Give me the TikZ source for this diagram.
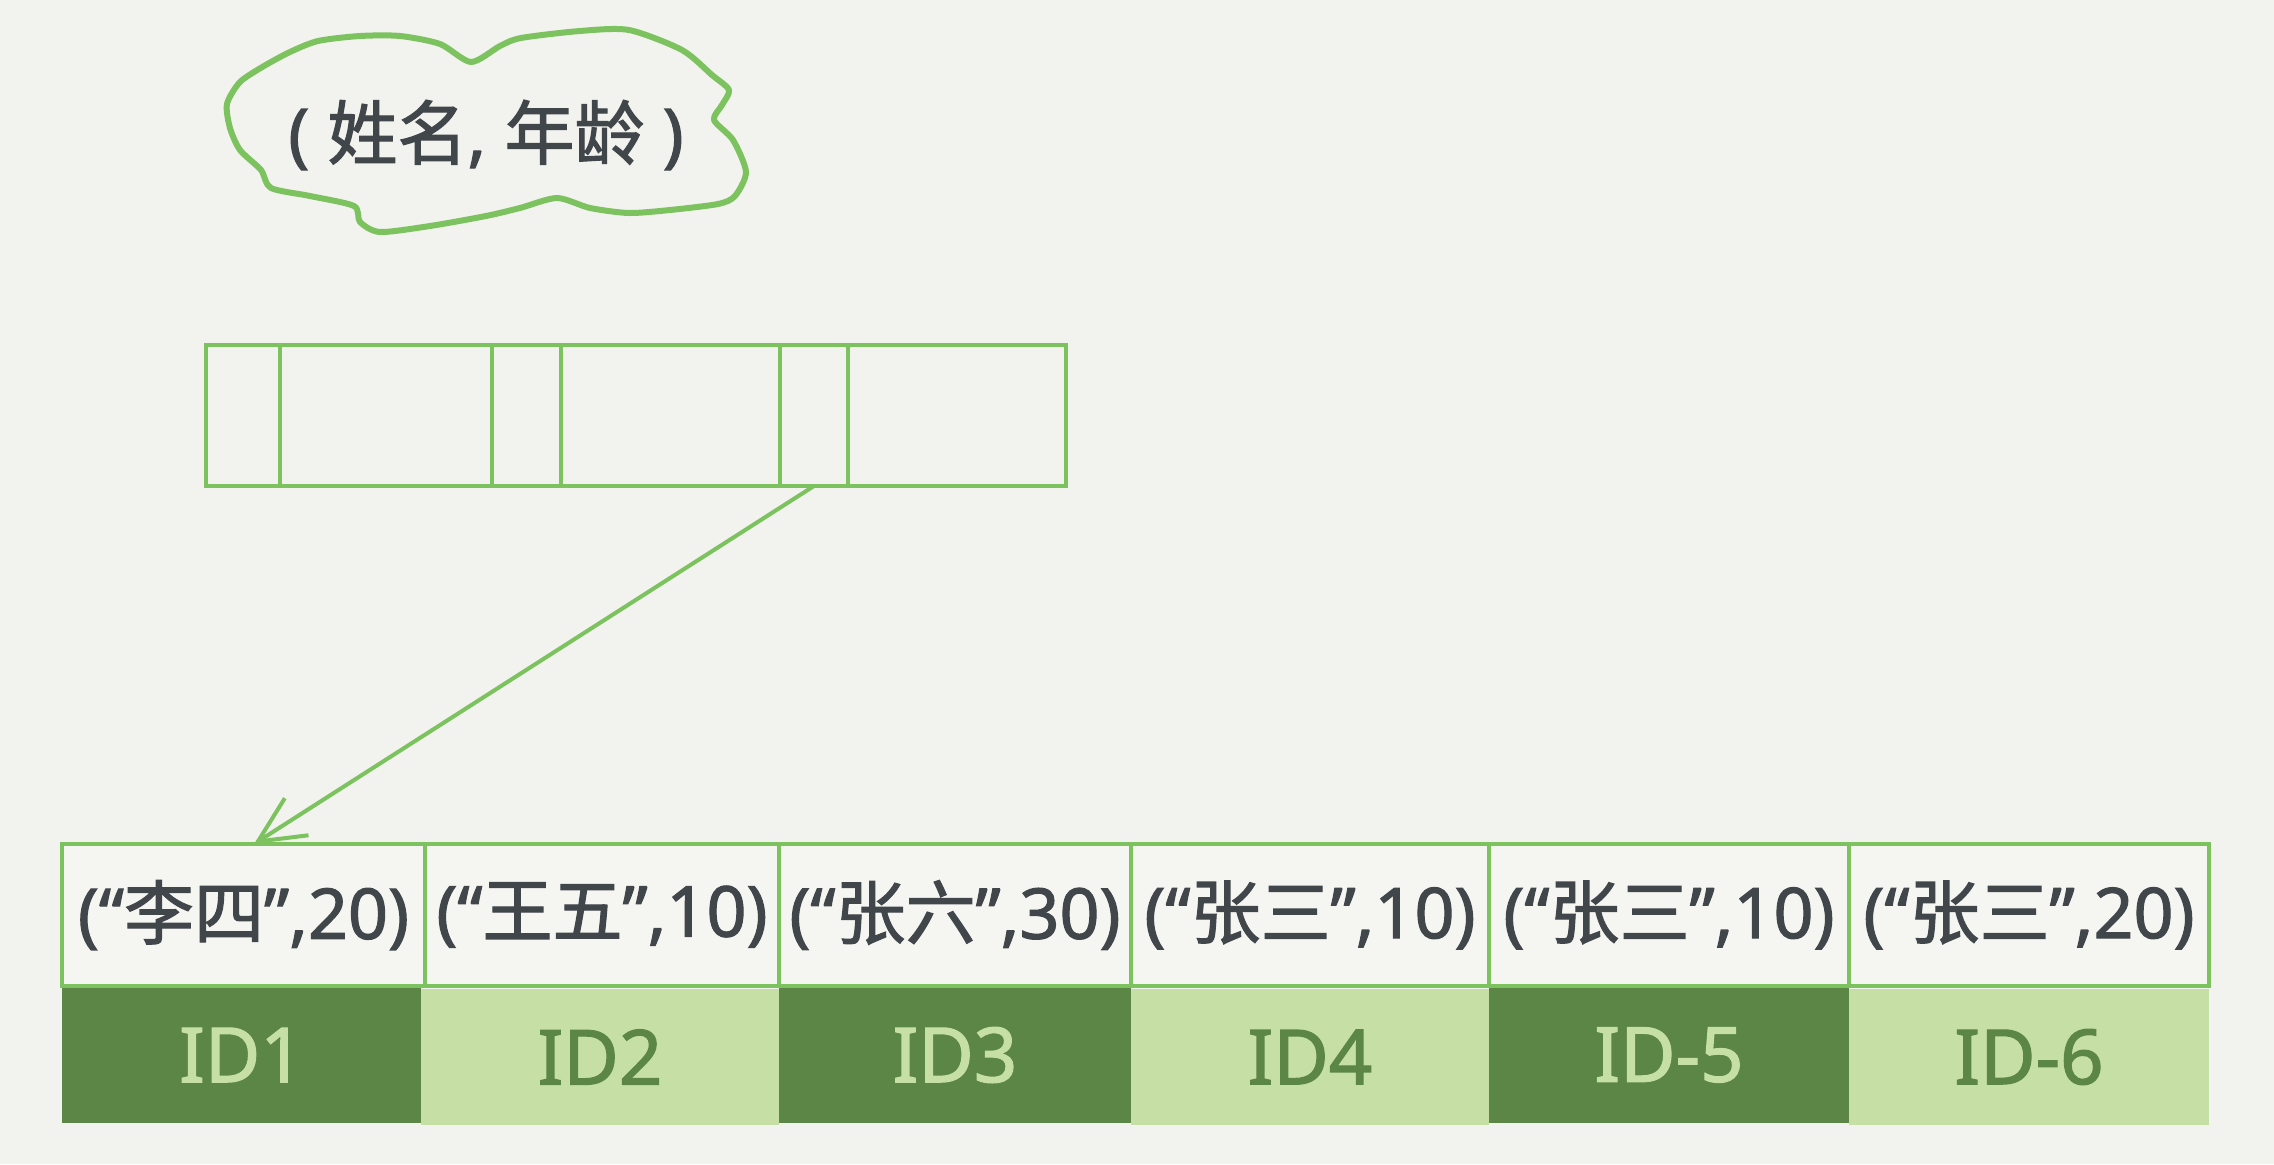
\documentclass[tikz,border=0pt]{standalone}
\usepackage{fontspec}
\setmainfont{Noto Sans}[AutoFakeBold=1.6]
\newfontfamily\cjk{Noto Sans CJK SC}[AutoFakeBold=1.6]
\usetikzlibrary{arrows.meta}
\definecolor{bg}{HTML}{F2F2EE}
\definecolor{gline}{HTML}{7CC35F}
\definecolor{ink}{HTML}{41464B}
\definecolor{dkg}{HTML}{5B8646}
\definecolor{ltg}{HTML}{C6DFA4}
\definecolor{cellw}{HTML}{F5F5F2}
\tikzset{
  ubox/.style={draw=gline, line width=4.5pt, fill=bg, minimum height=141pt, inner sep=0pt, outer sep=0pt},
  kbox/.style={draw=gline, line width=3.5pt, fill=cellw, minimum height=142pt, inner sep=0pt, outer sep=0pt, text=ink, font=\fontsize{70}{80}\selectfont\bfseries},
  iddark/.style={fill=dkg, minimum height=136pt, inner sep=0pt, outer sep=0pt, text=ltg, font=\fontsize{76}{86}\selectfont\bfseries},
  idlight/.style={fill=ltg, minimum height=136pt, inner sep=0pt, outer sep=0pt, text=dkg, font=\fontsize{76}{86}\selectfont\bfseries},
  ptr/.style={draw=gline, line width=4pt, -{Straight Barb[length=46pt,width=44pt,line width=4pt]}},
  cloudline/.style={draw=gline, line width=6pt, line join=round}
}
\begin{document}
\begin{tikzpicture}[x=1pt,y=-1pt]
\fill[bg] (0,0) rectangle (2274,1164);
\useasboundingbox (0,0) rectangle (2274,1164);
% cloud
\draw[cloudline] plot[smooth cycle, tension=0.45] coordinates {
 (227,104) (240,82) (264,66) (290,52) (318,41) (360,36) (400,36) (440,44) (471,62) (500,46) (521,38) (580,31) (629,30) (682,50)
 (712,75) (729,90) (722,105) (714,120) (733,140) (746,172) (735,196) (718,204) (670,210) (629,213) (590,208) (557,198) (520,208) (486,216)
 (430,226) (380,232) (360,222) (354,206) (310,196) (271,188) (261,170) (240,150) (230,128)};
\node[text=ink, font=\fontsize{70}{78}\selectfont\bfseries] (key) at (486,135) {( {\cjk 姓名}, {\cjk 年龄}\ )};
% upper box
\node[ubox, minimum width=74pt]  (u1) at (243,415.5) {};
\node[ubox, minimum width=212pt] (u2) at (386,415.5) {};
\node[ubox, minimum width=69pt]  (u3) at (526.5,415.5) {};
\node[ubox, minimum width=219pt] (u4) at (670.5,415.5) {};
\node[ubox, minimum width=68pt]  (u5) at (814,415.5) {};
\node[ubox, minimum width=218pt] (u6) at (957,415.5) {};
% key row
\node[kbox, minimum width=363pt] (r1) at (243.5,915) {(“{\cjk 李四}”,20)};
\node[kbox, minimum width=354pt] (r2) at (602,915) {(“{\cjk 王五}”,10)};
\node[kbox, minimum width=352pt] (r3) at (955,915) {(“{\cjk 张六}”,30)};
\node[kbox, minimum width=358pt] (r4) at (1310,915) {(“{\cjk 张三}”,10)};
\node[kbox, minimum width=360pt] (r5) at (1669,915) {(“{\cjk 张三}”,10)};
\node[kbox, minimum width=360pt] (r6) at (2029,915) {(“{\cjk 张三}”,20)};
% id row
\node[iddark,  minimum width=359pt] (i1) at (241.5,1055) {ID1};
\node[idlight, minimum width=358pt] (i2) at (600,1057) {ID2};
\node[iddark,  minimum width=352pt] (i3) at (955,1055) {ID3};
\node[idlight, minimum width=358pt] (i4) at (1310,1057) {ID4};
\node[iddark,  minimum width=360pt] (i5) at (1669,1055) {ID-5};
\node[idlight, minimum width=360pt] (i6) at (2029,1057) {ID-6};
% redraw key row borders on top
\foreach \n in {r1,r2,r3,r4,r5,r6} \draw[gline, line width=3.5pt] (\n.north west) rectangle (\n.south east);
% pointer
\draw[ptr] (u5.south) -- (r1.north -| 254,0);
\end{tikzpicture}
\end{document}
